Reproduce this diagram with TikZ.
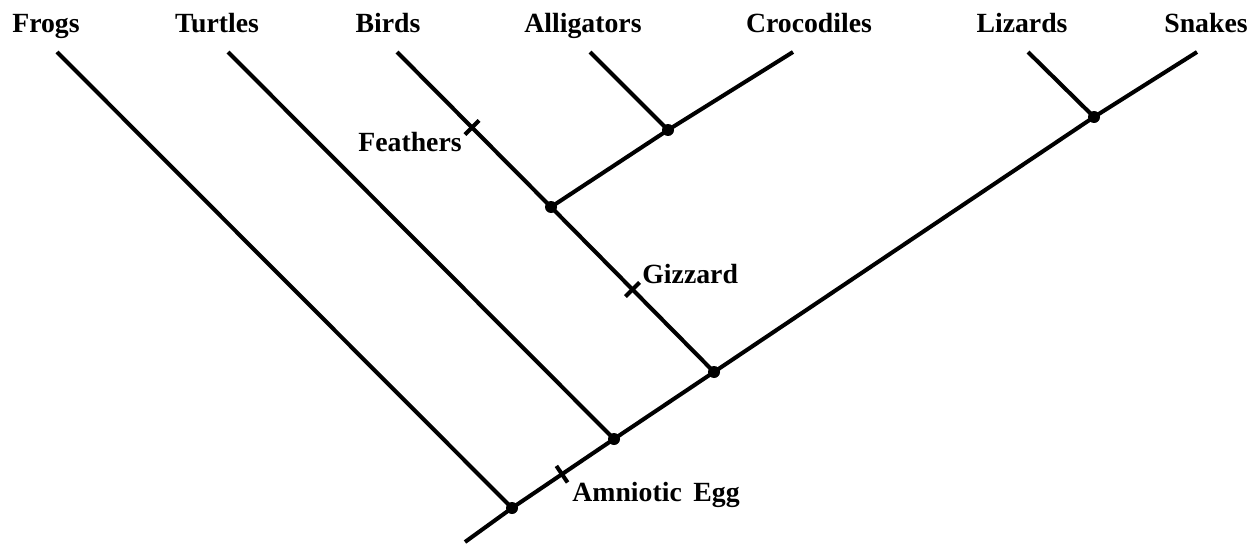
\documentclass[tikz,border=0pt]{standalone}
\usepackage{fontspec}
\setmainfont{Liberation Serif}
\usetikzlibrary{calc}
\begin{document}
\begin{tikzpicture}[x=0.02cm,y=-0.02cm,
  branch/.style={line width=2.3pt,line cap=butt},
  junction/.style={circle,fill=black,inner sep=0pt,minimum size=0.24cm},
  taxon/.style={font=\fontsize{15.8}{18}\selectfont\bfseries,anchor=base,inner sep=0pt},
  trait/.style={font=\fontsize{15.8}{18}\selectfont\bfseries,anchor=base,inner sep=0pt}]
\useasboundingbox (0,0) rectangle (1260,544);
% tips
\coordinate (frogT) at (57,52);
\coordinate (turtT) at (228,52);
\coordinate (birdT) at (397,52);
\coordinate (alliT) at (590,52);
\coordinate (crocT) at (793,52);
\coordinate (lizT) at (1028,52);
\coordinate (snakeT) at (1197,52);
\coordinate (root) at (465,542);
% internal nodes
\coordinate (F) at (512,508);
\coordinate (T) at (614,439);
\coordinate (G) at (714,372);
\coordinate (B) at (551,207);
\coordinate (AC) at (668,130);
\coordinate (LS) at (1094,117);
% branches
\draw[branch] (root) -- (F) -- (T) -- (G) -- (LS) -- (snakeT);
\draw[branch] (frogT) -- (F);
\draw[branch] (turtT) -- (T);
\draw[branch] (birdT) -- (B) -- (G);
\draw[branch] (B) -- (AC) -- (crocT);
\draw[branch] (alliT) -- (AC);
\draw[branch] (lizT) -- (LS);
% junction dots
\foreach \n in {F,T,G,B,AC,LS} \node[junction] at (\n) {};
% ticks
\coordinate (fth) at ($(birdT)!0.487!(B)$);
\coordinate (giz) at ($(B)!0.5!(G)$);
\coordinate (egg) at ($(F)!0.49!(T)$);
\draw[branch] ($(fth)!0.2cm!90:(B)$) -- ($(fth)!0.2cm!-90:(B)$);
\draw[branch] ($(giz)!0.2cm!90:(G)$) -- ($(giz)!0.2cm!-90:(G)$);
\draw[branch] ($(egg)!0.2cm!90:(T)$) -- ($(egg)!0.2cm!-90:(T)$);
% labels
\node[taxon] (lfrog) at (46,33) {Frogs};
\node[taxon] (lturt) at (217,33) {Turtles};
\node[taxon] (lbird) at (388,33) {Birds};
\node[taxon] (lalli) at (583,33) {Alligators};
\node[taxon] (lcroc) at (809,33) {Crocodiles};
\node[taxon] (lliz) at (1022,33) {Lizards};
\node[taxon] (lsnake) at (1206,33) {Snakes};
\node[trait,anchor=base east] (lfth) at (462,151) {Feathers};
\node[trait,anchor=base west] (lgiz) at (642,283) {Gizzard};
\node[trait,anchor=base west] (legg) at (572,501) {Amniotic\, Egg};
\end{tikzpicture}
\end{document}
